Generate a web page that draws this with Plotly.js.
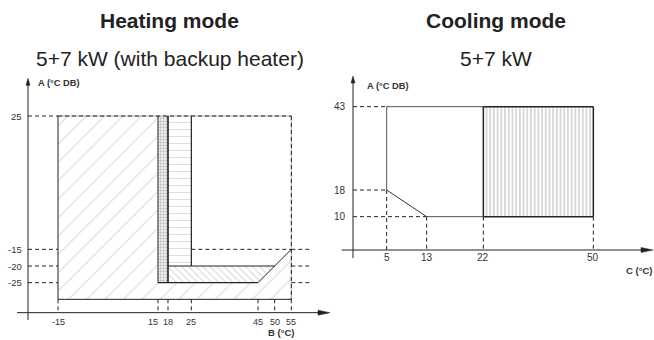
<!DOCTYPE html>
<html><head><meta charset="utf-8">
<script src="https://cdn.plot.ly/plotly-3.0.1.min.js"></script>
<style>html,body{margin:0;padding:0;background:#fff}#chart{width:654px;height:340px}</style>
</head><body><div id="chart"></div>
<script>
// ---------------- DATA ----------------
// Heating mode (5+7 kW with backup heater)
const heatTicksX = [-15, 15, 18, 25, 45, 50, 55];   // B (°C) leaving water
const heatTicksY = [25, -15, -20, -25];             // A (°C DB) ambient
const heatFloorY = -30;                             // lower edge of envelope
// Cooling mode (5+7 kW)
const coolTicksX = [5, 13, 22, 50];                 // C (°C) leaving water
const coolTicksY = [43, 18, 10];                    // A (°C DB) ambient

// ---------------- LAYOUT HELPERS ----------------
// cooling C axis is drawn schematically (non-linear): value knots -> axis slots
const coolKnots = [0, 5, 13, 22, 50];
const coolSlots = [0, 10.1, 22.1, 39.1, 72.1];
function cx(v){
  for(let i=1;i<coolKnots.length;i++){
    if(v<=coolKnots[i]||i===coolKnots.length-1){
      const t=(v-coolKnots[i-1])/(coolKnots[i]-coolKnots[i-1]);
      return coolSlots[i-1]+t*(coolSlots[i]-coolSlots[i-1]);
    }
  }
}
const FONT = '"Liberation Sans", Arial, sans-serif';
const INK = '#222';
const DASH = '4px,3px';

const [hxMin, hxBU, hxHP, hx25, hx45, hx50, hxMax] = heatTicksX;
const [hyTop, hy15, hy20, hy25] = heatTicksY;
const [cx5, cx13, cx22, cx50] = coolTicksX;
const [cyTop, cy18, cy10] = coolTicksY;

// axis decoration positions (in each panel's axis units; 1 unit = 3.33 px)
const hAxis = {y:-34, x:-24, xFrom:-27.3, xTip:66.6, yFrom:-36.2, yTip:36.3, guideEnd:61.2};
const cAxis = {xFrom:-3.4, xTip:90, yFrom:-2.4, yTip:52.2};

function poly(xs, ys, xa, ya, pat, fill){
  const t = {x: xs.concat([xs[0]]), y: ys.concat([ys[0]]), xaxis: xa, yaxis: ya,
    type:'scatter', mode:'lines', fill:'toself', line:{width:0, color:'rgba(0,0,0,0)'},
    hoverinfo:'skip', fillcolor: fill || '#fff'};
  if(pat) t.fillpattern = pat;
  return t;
}

const traces = [
  poly([hxMin,hxMax,hxMax,hxMin],[heatFloorY,heatFloorY,hyTop,hyTop],'x','y',
       {shape:'/', fgcolor:'#dadada', bgcolor:'#fff', size:13, solidity:0.08}),
  poly([hx25,hx25,hxMax,hxMax,hx50],[hy20,hyTop,hyTop,hy15,hy20],'x','y',null,'#fff'),
  poly([hxHP,hxHP,hx50,hx45],[hy25,hy20,hy20,hy25],'x','y',
       {shape:'\\', fgcolor:'#d4d4d4', bgcolor:'#fff', size:5, solidity:0.2}),
  poly([hxHP,hx25,hx25,hxHP],[hy20,hy20,hyTop,hyTop],'x','y',
       {shape:'-', fgcolor:'#dedede', bgcolor:'#fff', size:7, solidity:0.15}),
  poly([hxBU,hxHP,hxHP,hxBU],[hy25,hy25,hyTop,hyTop],'x','y',
       {shape:'+', fgcolor:'#b0b0b0', bgcolor:'#eee', size:3, solidity:0.3}),
  poly([cx(cx22),cx(cx50),cx(cx50),cx(cx22)],[cy10,cy10,cyTop,cyTop],'x2','y2',
       {shape:'|', fgcolor:'#bdbdbd', bgcolor:'#fff', size:3.7, solidity:0.3})
];

const shapes = [];
function seg(x0,y0,x1,y1,xr,yr,color,width,dash){
  shapes.push({type:'line', xref:xr, yref:yr, x0,y0,x1,y1, layer:'above', line:{color, width, dash: dash||'solid'}});
}
function head(xr,yr,tx,ty,dir,len,half){
  let p;
  if(dir==='right') p=`M${tx},${ty} L${tx-len},${ty+half} L${tx-len},${ty-half} Z`;
  else p=`M${tx},${ty} L${tx-half},${ty-len} L${tx+half},${ty-len} Z`;
  shapes.push({type:'path', xref:xr, yref:yr, path:p, fillcolor:INK, line:{width:0.5,color:INK}, layer:'above'});
}
// ---- axes
seg(hAxis.xFrom,hAxis.y,hAxis.xTip-2,hAxis.y,'x','y',INK,1);
seg(hAxis.x,hAxis.yFrom,hAxis.x,hAxis.yTip-1,'x','y',INK,1);
head('x','y',hAxis.xTip,hAxis.y,'right',3.6,0.75);
head('x','y',hAxis.x,hAxis.yTip,'up',2.1,0.6);
seg(cAxis.xFrom,0,cAxis.xTip-2,0,'x2','y2',INK,1);
seg(0,cAxis.yFrom,0,cAxis.yTip-1,'x2','y2',INK,1);
head('x2','y2',cAxis.xTip,0,'right',3.6,0.75);
head('x2','y2',0,cAxis.yTip,'up',2.1,0.6);
// ---- heating lines
seg(hAxis.x,hyTop,hxMin,hyTop,'x','y',INK,1,DASH);
[hy15,hy20,hy25].forEach(v=>{ seg(hAxis.x,v,hxMin,v,'x','y',INK,1,DASH); seg(hxMax,v,hAxis.guideEnd,v,'x','y',INK,1,DASH); });
seg(hx25,hy15,hxMax,hy15,'x','y',INK,1,DASH);
heatTicksX.forEach(v=>seg(v,heatFloorY,v,hAxis.y,'x','y',INK,1,DASH));
seg(hxMin,hyTop,hxMax,hyTop,'x','y','#777',0.6);
seg(hxMin,hyTop,hxMax,hyTop,'x','y',INK,1,DASH);
seg(hxMax,hyTop,hxMax,heatFloorY,'x','y','#777',0.6);
seg(hxMax,hyTop,hxMax,heatFloorY,'x','y',INK,1,DASH);
seg(hxMin,hyTop,hxMin,heatFloorY,'x','y',INK,1);
seg(hxMin,heatFloorY,hxMax,heatFloorY,'x','y',INK,1);
seg(hxBU,hyTop,hxBU,hy25,'x','y',INK,1);
seg(hxHP,hyTop,hxHP,hy25,'x','y',INK,1.6);
seg(hx25,hyTop,hx25,hy20,'x','y',INK,1.2);
seg(hxBU,hy25,hx45,hy25,'x','y',INK,1.2);
seg(hxHP,hy20,hx50,hy20,'x','y',INK,1.2);
seg(hx45,hy25,hxMax,hy15,'x','y',INK,1);
// ---- cooling lines
seg(0,cyTop,cx(cx5),cyTop,'x2','y2',INK,1,DASH);
seg(0,cy18,cx(cx5),cy18,'x2','y2',INK,1,DASH);
seg(0,cy10,cx(cx13),cy10,'x2','y2',INK,1,DASH);
seg(cx(cx5),cy18,cx(cx5),0,'x2','y2',INK,1,DASH);
[cx13,cx22,cx50].forEach(v=>seg(cx(v),cy10,cx(v),0,'x2','y2',INK,1,DASH));
seg(cx(cx5),cy18,cx(cx5),cyTop,'x2','y2','#555',1);
seg(cx(cx5),cyTop,cx(cx22),cyTop,'x2','y2','#555',1);
seg(cx(cx5),cy18,cx(cx13),cy10,'x2','y2','#333',1);
seg(cx(cx13),cy10,cx(cx22),cy10,'x2','y2','#555',1);
seg(cx(cx22),cy10,cx(cx22),cyTop,'x2','y2',INK,1.5);
seg(cx(cx22),cyTop,cx(cx50),cyTop,'x2','y2',INK,1.5);
seg(cx(cx50),cyTop,cx(cx50),cy10,'x2','y2',INK,1.5);
seg(cx(cx22),cy10,cx(cx50),cy10,'x2','y2',INK,1.5);

const ann = [];
function txt(x,y,text,xr,yr,size,opts){
  ann.push(Object.assign({x,y,xref:xr,yref:yr,text,showarrow:false,
    font:{family:FONT,size,color:'#333'},xanchor:'center',yanchor:'middle'},opts||{}));
}
heatTicksX.forEach((v,i)=>{
  const crowded = i<heatTicksX.length-1 && heatTicksX[i+1]-v<5;
  txt(v,-36.7,String(v),'x','y',9,crowded?{xshift:-5}:{});
});
heatTicksY.forEach(v=>txt(-25.2,v,String(v),'x','y',9.5,{xanchor:'right'}));
coolTicksX.forEach(v=>txt(cx(v),-2.3,String(v),'x2','y2',10,{}));
coolTicksY.forEach(v=>txt(-1.4,v,String(v),'x2','y2',10,{xanchor:'right'}));
txt(-21.6,35.0,'<b>A (°C DB)</b>','x','y',9.3,{xanchor:'left'});
txt(52.0,-40.0,'<b>B (°C)</b>','x','y',9.5);
txt(3.6,49.2,'<b>A (°C DB)</b>','x2','y2',9.3,{xanchor:'left'});
txt(85.8,-6,'<b>C (°C)</b>','x2','y2',9.5);
function ttl(xp,yp,text){
  ann.push({x:xp/654,y:1-yp/340,xref:'paper',yref:'paper',text,showarrow:false,
    font:{family:FONT,size:21,color:INK},xanchor:'center',yanchor:'middle'});
}
ttl(170,20,'<b>Heating mode</b>');
ttl(170,58,'5+7 kW (with backup heater)');
ttl(496,20,'<b>Cooling mode</b>');
ttl(496,58,'5+7 kW');

const hidden = {visible:false, fixedrange:true, showgrid:false, zeroline:false};
const layout = {
  width:654, height:340, margin:{l:0,r:0,t:0,b:0},
  paper_bgcolor:'#fff', plot_bgcolor:'rgba(0,0,0,0)', showlegend:false,
  xaxis:Object.assign({domain:[0,1], range:[-32.4,163.8], anchor:'y'},hidden),
  yaxis:Object.assign({domain:[0,1], range:[-42.2,59.8], anchor:'x'},hidden),
  xaxis2:Object.assign({domain:[0,1], range:[-105.9,90.3], anchor:'y2'},hidden),
  yaxis2:Object.assign({domain:[0,1], range:[-27,75], anchor:'x2'},hidden),
  shapes, annotations: ann
};
Plotly.newPlot('chart', traces, layout, {staticPlot:true, displayModeBar:false});
</script></body></html>
